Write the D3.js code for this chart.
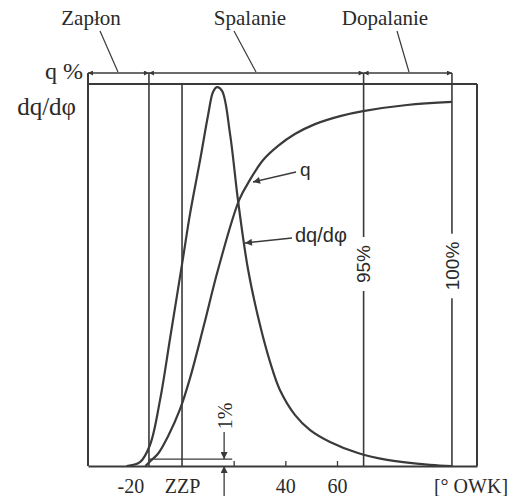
<!DOCTYPE html>
<html>
<head>
<meta charset="utf-8">
<script src="https://cdn.jsdelivr.net/npm/d3@7"></script>
<style>
  body { margin: 0; background: #fff; }
  svg { display: block; }
</style>
</head>
<body>
<div id="chart"></div>
<script>
// heat release q (%) vs crank angle
var qAngle = [-14.2, -12.4, -9.3, -5.4, -0.8, 3.1, 8.5, 13.9, 22.1, 26.3, 31.4, 37.2, 43.7, 51.5, 61.2, 70.1, 87.1, 104.5];
var qPct = [0, 1.2, 3.2, 7.8, 14.8, 23.0, 36.9, 51.3, 69.6, 74.9, 80.1, 83.8, 86.9, 89.5, 91.6, 92.9, 94.5, 95.3];
// rate of heat release dq/dphi (normalised)
var dqAngle = [-21.5, -16.3, -12.4, -8.5, -4.6, 0.4, 3.1, 7.0, 10.1, 12.0, 13.5, 15.5, 18.6, 21.7, 25.6, 30.2, 34.1, 37.9, 43.7, 49.6, 57.3, 68.1, 79.4, 96.0, 104.5];
var dqPct = [0, 1.0, 5.5, 17.3, 33.5, 54.5, 66.0, 80.1, 91.9, 97.9, 99.2, 98.2, 86.9, 69.4, 51.3, 36.9, 27.2, 19.9, 13.4, 9.4, 6.3, 3.4, 1.6, 0.3, 0];

var phaseNames = ["Zapłon", "Spalanie", "Dopalanie"];
var phaseBounds = [-36.4, -12.8, 70.3, 104.5]; // start, 1%, 95%, 100%
var boundLabels = ["", "", "95%", "100%"];
var tickValues = [-20, 0, 20, 40, 60];
var tickLabels = ["-20", "ZZP", "", "40", "60"];
var onePct = 1.8;
var onePctAngle = 16.3;

var ink = "#3a3a3a";
var serif = "'Liberation Serif', 'Times New Roman', serif";
var sans = "'Liberation Sans', Arial, sans-serif";

var x = d3.scaleLinear().domain([-36.4, 114.2]).range([88, 477]);
var y = d3.scaleLinear().domain([0, 100]).range([466, 84]);
var qLineY = 73;

var svg = d3.select("#chart").append("svg")
     .attr("width", 512)
     .attr("height", 496);

var defs = svg.append("defs");
defs.append("marker")
     .attr("id", "small")
     .attr("viewBox", "0 0 10 10")
     .attr("refX", 10).attr("refY", 5)
     .attr("markerWidth", 6).attr("markerHeight", 5)
     .attr("markerUnits", "userSpaceOnUse")
     .attr("orient", "auto-start-reverse")
     .append("path").attr("d", "M0,0L10,5L0,10z").attr("fill", ink);
defs.append("marker")
     .attr("id", "head")
     .attr("viewBox", "0 0 10 10")
     .attr("refX", 10).attr("refY", 5)
     .attr("markerWidth", 10).attr("markerHeight", 7)
     .attr("markerUnits", "userSpaceOnUse")
     .attr("orient", "auto")
     .append("path").attr("d", "M0,0L10,5L0,10z").attr("fill", ink);

// frame
svg.append("line")
     .attr("x1", x.range()[0]).attr("x2", x.range()[1])
     .attr("y1", y(100)).attr("y2", y(100))
     .attr("stroke", ink).attr("stroke-width", 2);
svg.append("line")
     .attr("x1", x.range()[1]).attr("x2", x.range()[1])
     .attr("y1", y(100)).attr("y2", y(0))
     .attr("stroke", ink).attr("stroke-width", 2);
svg.append("line")
     .attr("x1", x.range()[0]).attr("x2", x.range()[0])
     .attr("y1", qLineY).attr("y2", y(0))
     .attr("stroke", ink).attr("stroke-width", 2);

// phase boundaries
phaseBounds.slice(1).forEach(function (b) {
     svg.append("line")
          .attr("x1", x(b)).attr("x2", x(b))
          .attr("y1", qLineY).attr("y2", y(0))
          .attr("stroke", ink).attr("stroke-width", 1.6);
});
svg.append("line")
     .attr("x1", x(0)).attr("x2", x(0))
     .attr("y1", y(100)).attr("y2", y(0))
     .attr("stroke", ink).attr("stroke-width", 1.6);

// rotated 95% / 100% labels with a gap in the line
phaseBounds.forEach(function (b, i) {
     if (!boundLabels[i]) return;
     var cy = i == 2 ? 264 : 266;
     var g = svg.append("g").attr("transform", "translate(" + x(b) + "," + cy + ") rotate(-90)");
     var t = g.append("text")
          .attr("text-anchor", "middle").attr("dy", "0.35em")
          .attr("font-family", sans).attr("font-size", 19).attr("fill", "#2a2a2a")
          .text(boundLabels[i]);
     var w = t.node().getComputedTextLength();
     g.insert("rect", "text")
          .attr("x", -w / 2 - 8).attr("width", w + 16)
          .attr("y", -5).attr("height", 10).attr("fill", "#fff");
});

// q % phase line with arrows
for (var i = 0; i < phaseNames.length; i++) {
     svg.append("line")
          .attr("x1", x(phaseBounds[i])).attr("x2", x(phaseBounds[i + 1]))
          .attr("y1", qLineY).attr("y2", qLineY)
          .attr("stroke", ink).attr("stroke-width", 1.3)
          .attr("marker-start", "url(#small)").attr("marker-end", "url(#small)");
}

// phase names with leader lines
var labelX = [91, 250, 385];
var tipX = [118, 256, 409];
var footX = [100, 234, 397];
phaseNames.forEach(function (n, i) {
     svg.append("text")
          .attr("x", labelX[i]).attr("y", 25)
          .attr("text-anchor", "middle")
          .attr("font-family", serif).attr("font-size", 21).attr("fill", "#2a2a2a")
          .text(n);
     svg.append("line")
          .attr("x1", footX[i]).attr("y1", 31)
          .attr("x2", tipX[i]).attr("y2", qLineY - 1)
          .attr("stroke", ink).attr("stroke-width", 1.2);
});

// left labels
svg.append("text")
     .attr("x", 83).attr("y", 79)
     .attr("text-anchor", "end")
     .attr("font-family", serif).attr("font-size", 24).attr("fill", "#2a2a2a")
     .text("q %");
svg.append("text")
     .attr("x", 76).attr("y", 115)
     .attr("text-anchor", "end")
     .attr("font-family", serif).attr("font-size", 25).attr("fill", "#2a2a2a")
     .text("dq/dφ");

// curves
var line = d3.line()
     .x(function (d) { return x(d[0]); })
     .y(function (d) { return Math.min(y(d[1]), y(0)); })
     .curve(d3.curveCatmullRom.alpha(0.5));

svg.append("path")
     .datum(d3.zip(dqAngle, dqPct))
     .attr("d", line)
     .attr("fill", "none").attr("stroke", ink).attr("stroke-width", 2.2);
svg.append("path")
     .datum(d3.zip(qAngle, qPct))
     .attr("d", line)
     .attr("fill", "none").attr("stroke", ink).attr("stroke-width", 2.2);

// curve labels
svg.append("line")
     .attr("x1", 296).attr("y1", 172).attr("x2", 253).attr("y2", 182)
     .attr("stroke", ink).attr("stroke-width", 1.5).attr("marker-end", "url(#head)");
svg.append("text")
     .attr("x", 300).attr("y", 176)
     .attr("font-family", sans).attr("font-size", 19).attr("fill", "#2a2a2a")
     .text("q");
svg.append("line")
     .attr("x1", 292).attr("y1", 238).attr("x2", 245).attr("y2", 243)
     .attr("stroke", ink).attr("stroke-width", 1.5).attr("marker-end", "url(#head)");
svg.append("text")
     .attr("x", 295).attr("y", 242)
     .attr("font-family", sans).attr("font-size", 20).attr("fill", "#2a2a2a")
     .text("dq/dφ");

// 1% marker
svg.append("line")
     .attr("x1", x(phaseBounds[1])).attr("x2", x(onePctAngle) + 8)
     .attr("y1", y(onePct)).attr("y2", y(onePct))
     .attr("stroke", ink).attr("stroke-width", 1.3);
svg.append("line")
     .attr("x1", x(onePctAngle)).attr("x2", x(onePctAngle))
     .attr("y1", 432).attr("y2", y(onePct))
     .attr("stroke", ink).attr("stroke-width", 1.3).attr("marker-end", "url(#head)");
svg.append("line")
     .attr("x1", x(onePctAngle)).attr("x2", x(onePctAngle))
     .attr("y1", 496).attr("y2", y(0))
     .attr("stroke", ink).attr("stroke-width", 1.3).attr("marker-end", "url(#head)");
svg.append("text")
     .attr("transform", "translate(" + (x(onePctAngle) + 1) + ",416) rotate(-90)")
     .attr("text-anchor", "middle").attr("dy", "0.35em")
     .attr("font-family", serif).attr("font-size", 20).attr("fill", "#2a2a2a")
     .text("1%");

// x axis
var axis = d3.axisBottom(x)
     .tickValues(tickValues)
     .tickFormat(function (d, i) { return tickLabels[i]; })
     .tickSizeInner(-5)
     .tickSizeOuter(0)
     .tickPadding(13);
var gx = svg.append("g")
     .attr("transform", "translate(0," + y(0) + ")")
     .call(axis)
     .attr("font-family", serif)
     .attr("font-size", 20);
gx.select(".domain").attr("stroke", ink).attr("stroke-width", 2);
gx.selectAll(".tick line").attr("stroke", ink).attr("stroke-width", 1.3)
     .filter(function (d) { return d < 20; }).remove();
gx.selectAll(".tick text").attr("fill", "#2a2a2a");
svg.append("text")
     .attr("x", 471).attr("y", 493)
     .attr("text-anchor", "middle")
     .attr("font-family", serif).attr("font-size", 20).attr("fill", "#2a2a2a")
     .text("[° OWK]");
</script>
</body>
</html>
